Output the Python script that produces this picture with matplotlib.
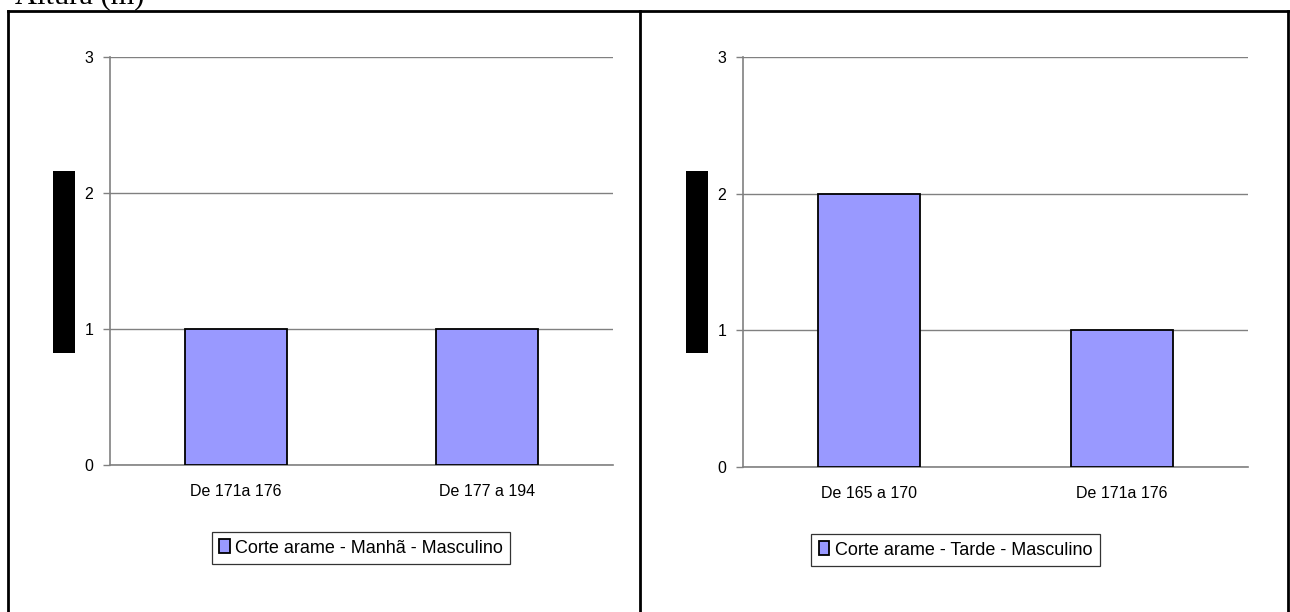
import matplotlib
matplotlib.use("Agg")
import matplotlib.pyplot as plt
from matplotlib.lines import Line2D
from matplotlib.patches import Rectangle

plt.rcParams['font.family'] = ['Liberation Sans', 'DejaVu Sans']

W, H = 1290, 612
DPI = 100

# Data
cats_left = ["De 171a 176", "De 177 a 194"]
vals_left = [1, 1]
label_left = "Corte arame - Manhã - Masculino"

cats_right = ["De 165 a 170", "De 171a 176"]
vals_right = [2, 1]
label_right = "Corte arame - Tarde - Masculino"

yticks = [0, 1, 2, 3]
bar_color = "#9999FF"
grid_color = "#808080"

fig = plt.figure(figsize=(W / DPI, H / DPI), dpi=DPI)


def px_axes(x0, y0, x1, y1):
    return fig.add_axes([x0 / W, 1 - y1 / H, (x1 - x0) / W, (y1 - y0) / H])


def draw_panel(box, cats, vals, label, legend_box, black_box):
    ax = px_axes(*box)
    x = range(len(cats))
    ax.bar(x, vals, width=0.405, color=bar_color, edgecolor="black",
           linewidth=1.3, label=label, zorder=3)
    ax.set_xlim(-0.5, len(cats) - 0.5)
    ax.set_ylim(0, 3)
    ax.set_yticks(yticks)
    ax.set_yticklabels([str(t) for t in yticks], fontsize=11.5)
    ax.set_xticks(list(x))
    ax.set_xticklabels(cats, fontsize=11.5)
    ax.tick_params(axis="x", length=0, pad=14)
    ax.tick_params(axis="y", length=5, width=1, color=grid_color, pad=7)
    ax.yaxis.grid(True, color=grid_color, linewidth=1, zorder=0)
    ax.set_axisbelow(True)
    for s in ("top", "right"):
        ax.spines[s].set_visible(False)
    for s in ("left", "bottom"):
        ax.spines[s].set_color(grid_color)
        ax.spines[s].set_linewidth(1.2)

    lx0, ly0, lx1, ly1 = legend_box
    leg = ax.legend(loc="center",
                    bbox_to_anchor=((lx0 + lx1) / 2 / W, 1 - (ly0 + ly1) / 2 / H),
                    bbox_transform=fig.transFigure, fontsize=13,
                    frameon=True, fancybox=False, handlelength=0.6,
                    handleheight=0.8, handletextpad=0.3, borderpad=0.4,
                    borderaxespad=0)
    leg.get_frame().set_edgecolor("black")
    leg.get_frame().set_linewidth(0.9)

    bx0, by0, bx1, by1 = black_box
    fig.patches.append(Rectangle((bx0 / W, 1 - by1 / H), (bx1 - bx0) / W,
                                 (by1 - by0) / H, transform=fig.transFigure,
                                 facecolor="black", edgecolor="none"))
    return ax


draw_panel((110, 57, 613, 465), cats_left, vals_left, label_left,
           (205, 531, 517, 565), (53, 171, 75, 353))
draw_panel((743, 57, 1248, 467), cats_right, vals_right, label_right,
           (823, 533, 1088, 567), (686, 171, 708, 353))

# Outer table frame
def fig_line(xs, ys):
    fig.add_artist(Line2D([v / W for v in xs], [1 - v / H for v in ys],
                          color="black", linewidth=2, transform=fig.transFigure))

fig_line([8, 1288], [11, 11])
fig_line([8, 8], [11, 612])
fig_line([640, 640], [11, 612])
fig_line([1288, 1288], [11, 612])

# Heading above the table
fig.text(15 / W, 1 - 3 / H, "Altura (m)", family="Liberation Serif",
         fontsize=22, ha="left", va="baseline")

fig.savefig("out.png", dpi=DPI)
